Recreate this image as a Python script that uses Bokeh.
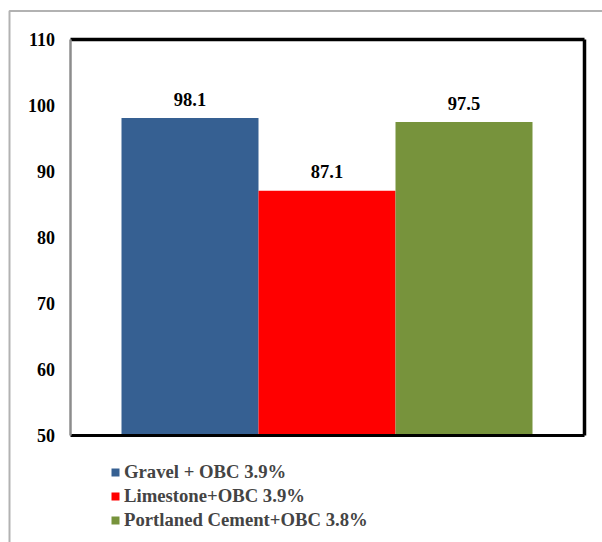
from bokeh.plotting import figure
from bokeh.models import Range1d, LinearAxis, FixedTicker, Legend, LegendItem, BoxAnnotation, ColumnDataSource
from bokeh.core.properties import value
from bokeh.embed import file_html
from bokeh.resources import INLINE

categories = ["Gravel + OBC 3.9%", "Limestone+OBC 3.9%", "Portlaned Cement+OBC 3.8%"]
values = [98.1, 87.1, 97.5]
colors = ["#366092", "#FF0000", "#77933C"]
y_ticks = [50, 60, 70, 80, 90, 100, 110]
y_min, y_max = 50, 110

FONT = "Liberation Serif"
W, H = 602, 542

# layout geometry (pixels), converted to data units for the full-canvas frame
BAR_PX = 137.0          # one category unit in pixels
X0_PX = 189.5           # pixel position of category 0 centre
Y_PX_PER_UNIT = 6.6
Y50_PX = 435.0

def px_x(px):
    return (px - X0_PX) / BAR_PX

def px_y(py):
    return y_min + (Y50_PX - py) / Y_PX_PER_UNIT

x_left, x_right = px_x(69.5), px_x(584.0)

p = figure(width=W, height=H, output_backend="svg", toolbar_location=None,
           x_range=Range1d(px_x(0), px_x(W)), y_range=Range1d(px_y(H), px_y(0)),
           x_axis_type=None, y_axis_type=None)
p.min_border = 0
p.min_border_left = p.min_border_right = p.min_border_top = p.min_border_bottom = 0
p.grid.visible = False
p.outline_line_color = None
p.background_fill_color = "white"
p.border_fill_color = "white"

xs = list(range(len(values)))
src = ColumnDataSource(dict(x=xs, top=values, label=[f"{v:.1f}" for v in values]))
renderers = []
for i in xs:
    r = p.vbar(x=[xs[i]], top=[values[i]], bottom=y_min, width=1.0, fill_color=colors[i], line_color=None)
    renderers.append(r)

p.text(x="x", y="top", text="label", source=src, text_align="center", text_baseline="alphabetic",
       y_offset=-19, text_font=value(FONT), text_font_style="bold", text_font_size="18.5px", text_color="black")

def bare_axis(side, loc, bounds, color, width):
    ax = LinearAxis(ticker=FixedTicker(ticks=[]), fixed_location=loc, bounds=bounds)
    ax.axis_line_color = color
    ax.axis_line_width = width
    ax.major_tick_line_color = None
    ax.minor_tick_line_color = None
    ax.major_label_text_font_size = "0px"
    p.add_layout(ax, side)
    return ax

# left axis with labels
yaxis = LinearAxis(ticker=FixedTicker(ticks=y_ticks), fixed_location=x_left, bounds=(y_min, y_max))
yaxis.axis_line_color = "#8c8c8c"
yaxis.axis_line_width = 2.5
yaxis.major_tick_line_color = None
yaxis.minor_tick_line_color = None
yaxis.major_tick_out = 0
yaxis.major_tick_in = 0
yaxis.major_label_standoff = 15
yaxis.major_label_text_font = FONT
yaxis.major_label_text_font_style = "bold"
yaxis.major_label_text_font_size = "18px"
yaxis.major_label_text_color = "black"
p.add_layout(yaxis, "left")

bare_axis("below", y_min, (x_left, x_right), "black", 3)
bare_axis("above", y_max, (x_left, x_right), "black", 3.5)
bare_axis("right", x_right, (y_min, y_max), "black", 3.5)

# outer chart-area border (only its left and top edges fall inside the picture)
p.add_layout(BoxAnnotation(left=px_x(9), top=px_y(10.5), right=px_x(W + 40), bottom=px_y(H + 40),
                           fill_alpha=0, line_color="black", line_width=2))

legend = Legend(items=[LegendItem(label=categories[i], renderers=[renderers[i]]) for i in xs],
                location=(110, 11), orientation="vertical",
                label_text_font=FONT, label_text_font_style="bold", label_text_font_size="18.7px",
                glyph_width=10, glyph_height=10, label_standoff=4, spacing=2, label_height=20,
                padding=0, margin=0, border_line_color=None, background_fill_alpha=0)
p.add_layout(legend, "center")

open("out.html", "w").write(file_html(p, INLINE))
